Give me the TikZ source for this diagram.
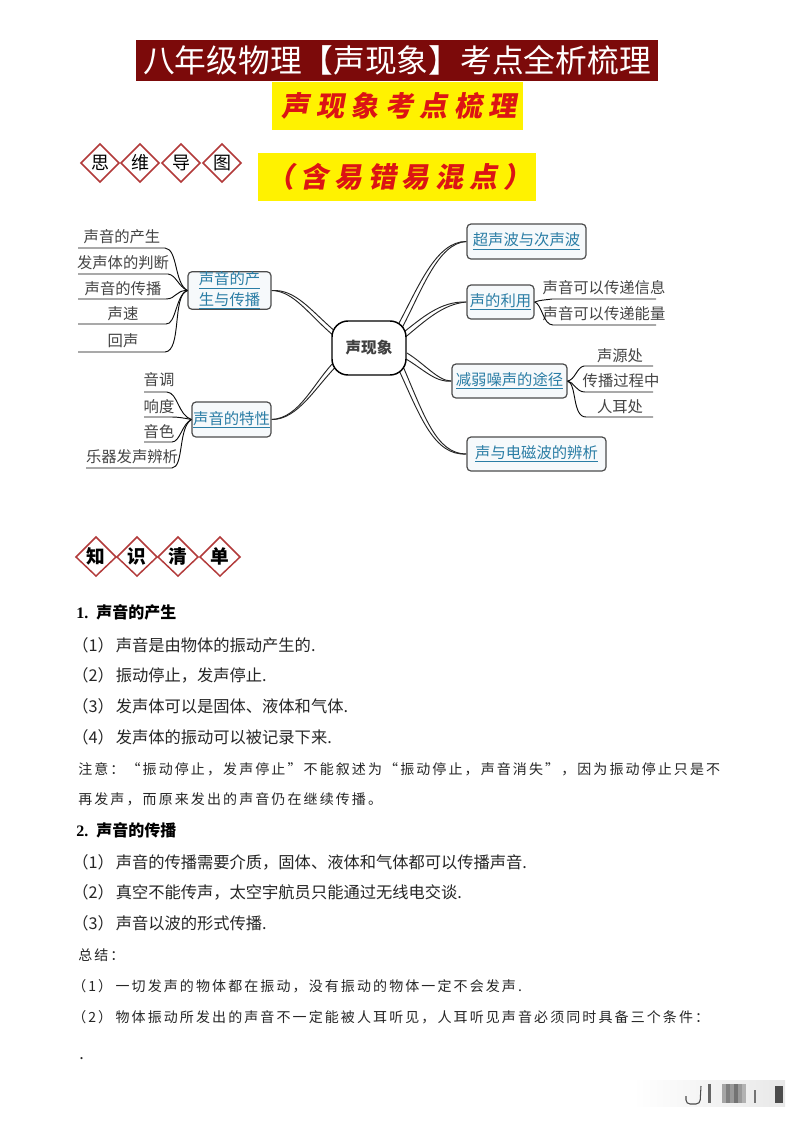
\documentclass[tikz,border=0pt]{standalone}
\usepackage{fontspec}
\setmainfont{Noto Sans CJK SC}
\newfontfamily\brush[FakeSlant=0.18,LetterSpace=23]{Noto Sans CJK SC}
\newfontfamily\brushb[FakeSlant=0.18,LetterSpace=21]{Noto Sans CJK SC}
\newfontfamily\note[LetterSpace=15]{Noto Sans CJK SC}
\newfontfamily\serifl{Liberation Serif}
\usetikzlibrary{calc}
\pgfdeclarelayer{bg}
\pgfsetlayers{bg,main}
\definecolor{maroon}{HTML}{7C0A0A}
\definecolor{linkc}{HTML}{2A7DA5}
\definecolor{diamc}{HTML}{B23A3A}
\definecolor{leafc}{HTML}{444444}
\definecolor{boxf}{HTML}{F6F9FB}
\definecolor{redb}{HTML}{DC1414}
\newcommand{\ul}[1]{\underline{#1}}
\newcommand{\gp}{\hspace{1.5pt}}
\tikzset{
 px/.style={x=0.75pt,y=-0.75pt},
 banner/.style={inner sep=0pt},
 dtxt/.style={inner sep=0pt,font=\fontsize{13.5pt}{16pt}\selectfont},
 ktxt/.style={inner sep=0pt,font=\fontsize{14pt}{16pt}\selectfont\bfseries},
 dline/.style={draw=diamc,line width=1.1pt,line join=miter},
 topic/.style={draw=black!70,line width=0.9pt,rounded corners=3pt,fill=boxf,text=linkc,inner sep=0pt,align=center,font=\fontsize{11.5pt}{15.5pt}\selectfont},
 leaf/.style={inner sep=0pt,text=leafc,font=\fontsize{11.5pt}{14pt}\selectfont},
 wire/.style={draw=black!85,line width=0.7pt},
 twig/.style={draw=black!95,line width=0.7pt},
 head/.style={inner sep=0pt,anchor=west,font=\fontsize{12pt}{14pt}\selectfont\bfseries},
 body/.style={inner sep=0pt,anchor=west,text=black!85,font=\fontsize{12.2pt}{14pt}\selectfont},
 noteb/.style={inner sep=0pt,anchor=west,text=black!85,font=\fontsize{10.5pt}{14pt}\note},
}
\begin{document}
\begin{tikzpicture}[px]
\useasboundingbox (0,0) rectangle (793,1122);
\begin{pgfonlayer}{bg}
\fill[white] (0,0) rectangle (793,1122);
\end{pgfonlayer}
% banners
\node[banner,fill=maroon,minimum width=391.5pt,minimum height=30.75pt,text=white,font=\fontsize{23.8pt}{26pt}\selectfont] (title) at (397,60.5) {八年级物理【声现象】考点全析梳理};
\node[banner,fill=yellow,minimum width=188pt,minimum height=36pt,text=redb,font=\fontsize{21pt}{24pt}\brush\bfseries] (sub1) at (397.5,106) {\hspace{2.5pt}声现象考点梳理};
\node[banner,fill=yellow,minimum width=208.5pt,minimum height=36pt,text=redb,font=\fontsize{21pt}{24pt}\brushb\bfseries] (sub2) at (397,177) {\hspace{3pt}（含易错易混点）};
% diamonds 1
\foreach \n/\t/\x in {d1/思/100,d2/维/140,d3/导/181,d4/图/222}{
 \node[dtxt] (\n) at (\x,163) {\t};
 \draw[dline,shift={(\n.center)}] (-19,0)--(0,-19)--(19,0)--(0,19)--cycle;
}
% centre
\node[draw=black,line width=1.1pt,rounded corners=12pt,fill=white,minimum width=55.5pt,minimum height=40.5pt,inner sep=0pt,text=black!75,font=\fontsize{11.7pt}{14pt}\selectfont\bfseries] (c) at (369,348) {声现象};
% topics
\node[topic,minimum width=62.25pt,minimum height=26.25pt] (t1) at (229.5,290.5) {\ul{声音的产}\\\ul{生与传播}};
\node[topic,minimum width=59.25pt,minimum height=26.25pt] (t2) at (231.5,419.5) {\ul{声音的特性}};
\node[topic,minimum width=89.25pt,minimum height=26.25pt] (t3) at (526.5,241.5) {\ul{超声波与次声波}};
\node[topic,minimum width=50.25pt,minimum height=25.5pt] (t4) at (500.5,302) {\ul{声的利用}};
\node[topic,minimum width=86.25pt,minimum height=25.5pt] (t5) at (509.5,381) {\ul{减弱噪声的途径}};
\node[topic,minimum width=104.25pt,minimum height=25.5pt] (t6) at (536.5,454) {\ul{声与电磁波的辨析}};
% main connector ends at the centre
\coordinate (a1) at ($(c.center)+(-35,-12)$);  \coordinate (a2) at ($(c.center)+(-32.5,-15.5)$);
\coordinate (b1) at ($(c.center)+(-33.5,12.5)$); \coordinate (b2) at ($(c.center)+(-30.5,16)$);
\coordinate (e1) at ($(c.center)+(29,-23)$);   \coordinate (e2) at ($(c.center)+(33,-20)$);
\coordinate (f1) at ($(c.center)+(31,-13)$);   \coordinate (f2) at ($(c.center)+(33.5,-8.5)$);
\coordinate (g1) at ($(c.center)+(38,5)$);     \coordinate (g2) at ($(c.center)+(37,11)$);
\coordinate (h1) at ($(c.center)+(33,16)$);    \coordinate (h2) at ($(c.center)+(29,20)$);
\begin{pgfonlayer}{bg}
\draw[wire] (t1.east) .. controls (294,291) and (308,314) .. (a1);
\draw[wire] (t1.east) .. controls (296,289) and (311,311) .. (a2);
\draw[wire] (t2.east) .. controls (300,418) and (313,383) .. (b1);
\draw[wire] (t2.east) .. controls (298,420) and (316,386) .. (b2);
\draw[wire] (t3.west) .. controls (436,241) and (418,288) .. (e1);
\draw[wire] (t3.west) .. controls (438,243) and (422,290) .. (e2);
\draw[wire] (t4.west) .. controls (440,301) and (422,318) .. (f1);
\draw[wire] (t4.west) .. controls (442,304) and (424,322) .. (f2);
\draw[wire] (t5.west) .. controls (438,381) and (425,364) .. (g1);
\draw[wire] (t5.west) .. controls (436,383) and (423,369) .. (g2);
\draw[wire] (t6.west) .. controls (436,454) and (424,415) .. (h1);
\draw[wire] (t6.west) .. controls (434,456) and (420,416) .. (h2);
\end{pgfonlayer}
% left leaves, top branch
\node[leaf] (l1) at (122,237) {声音的产生};
\node[leaf] (l2) at (123,263) {发声体的判断};
\node[leaf] (l3) at (123,289) {声音的传播};
\node[leaf] (l4) at (123,314) {声速};
\node[leaf] (l5) at (123,341) {回声};
\coordinate (ls1) at (78,248); \coordinate (ls2) at (78,274); \coordinate (ls3) at (78,299); \coordinate (ls4) at (78,324); \coordinate (ls5) at (78,352);
\draw[twig] (ls1) -- (165,248) .. controls (178,249) and (174,283) .. (t1.west);
\draw[twig] (ls2) -- (168,274) .. controls (176,275) and (178,286) .. (t1.west);
\draw[twig] (ls3) -- (166,299) .. controls (176,299) and (176,290) .. (t1.west);
\draw[twig] (ls4) -- (166,324) .. controls (176,325) and (176,294) .. (t1.west);
\draw[twig] (ls5) -- (165,352) .. controls (182,351) and (172,295) .. (t1.west);
% left leaves, lower branch
\node[leaf] (m1) at (159,380) {音调};
\node[leaf] (m2) at (159,407) {响度};
\node[leaf] (m3) at (159,432) {音色};
\node[leaf] (m4) at (132,457) {乐器发声辨析};
\coordinate (ms1) at (144,392); \coordinate (ms2) at (144,417); \coordinate (ms3) at (144,442); \coordinate (ms4) at (86,468);
\draw[twig] (ms1) -- (167,392) .. controls (178,393) and (178,415) .. (t2.west);
\draw[twig] (ms2) -- (172,417) .. controls (178,417) and (184,418) .. (t2.west);
\draw[twig] (ms3) -- (172,442) .. controls (180,442) and (182,424) .. (t2.west);
\draw[twig] (ms4) -- (172,468) .. controls (184,467) and (178,428) .. (t2.west);
% right leaves
\node[leaf] (r1) at (604,288) {声音可以传递信息};
\node[leaf] (r2) at (604,314) {声音可以传递能量};
\coordinate (rs1) at (656,299); \coordinate (rs2) at (656,325);
\draw[twig] (rs1) -- (552,299) .. controls (545,300) and (540,300) .. (t4.east);
\draw[twig] (rs2) -- (553,325) .. controls (543,325) and (542,304) .. (t4.east);
\node[leaf] (s1) at (620,356) {声源处};
\node[leaf] (s2) at (621,381) {传播过程中};
\node[leaf] (s3) at (620,407) {人耳处};
\coordinate (ss1) at (653,366); \coordinate (ss2) at (653,392); \coordinate (ss3) at (653,417);
\draw[twig] (ss1) -- (584,366) .. controls (577,367) and (575,380) .. (t5.east);
\draw[twig] (ss2) -- (585,392) .. controls (576,392) and (574,382) .. (t5.east);
\draw[twig] (ss3) -- (586,417) .. controls (572,417) and (577,384) .. (t5.east);
% diamonds 2
\foreach \n/\t/\x in {k1/知/96,k2/识/137,k3/清/178,k4/单/220}{
 \node[ktxt] (\n) at (\x,556) {\t};
 \draw[dline,shift={(\n.center)}] (-20,1)--(0,-19)--(20,1)--(0,20)--cycle;
}
% text
\node[head] (p1) at (76,612) {{\serifl 1.}\hspace{6pt}声音的产生};
\node[body] (p2) at (72,645) {（1）\gp 声音是由物体的振动产生的.};
\node[body] (p3) at (72,675) {（2）\gp 振动停止，发声停止.};
\node[body] (p4) at (72,706) {（3）\gp 发声体可以是固体、液体和气体.};
\node[body] (p5) at (72,737) {（4）\gp 发声体的振动可以被记录下来.};
\node[noteb] (p6) at (78,769) {注意：“振动停止，发声停止”不能叙述为“振动停止，声音消失”，因为振动停止只是不};
\node[noteb] (p7) at (78,799) {再发声，而原来发出的声音仍在继续传播。};
\node[head] (p8) at (76,830) {{\serifl 2.}\hspace{6pt}声音的传播};
\node[body] (p9) at (72,862) {（1）\gp 声音的传播需要介质，固体、液体和气体都可以传播声音.};
\node[body] (p10) at (72,892) {（2）\gp 真空不能传声，太空宇航员只能通过无线电交谈.};
\node[body] (p11) at (72,923) {（3）\gp 声音以波的形式传播.};
\node[noteb] (p12) at (78,955) {总结：};
\node[noteb] (p13) at (72,986) {（1）\hspace{2.5pt}一切发声的物体都在振动，没有振动的物体一定不会发声.};
\node[noteb] (p14) at (72,1017) {（2）\hspace{2.5pt}物体振动所发出的声音不一定能被人耳听见，人耳听见声音必须同时具备三个条件：};
\node[body] (p15) at (79,1059) {.};
% blurred mark, lower right
\shade[left color=white,right color=black!9] (633,1080) rectangle (785,1106);
\draw[black!70,line width=0.8pt,rounded corners=3pt] (686,1096) -- (686,1104) -- (700,1104) -- (701,1086);
\fill[black!60] (708,1084) rectangle (711,1103);
\foreach \x/\g in {722/35,726/50,730/40,734/55,738/40,742/30}{\fill[black!\g] (\x,1084) rectangle ++(3.6,19);}
\fill[black!55] (754,1090) rectangle (756,1103);
\fill[black!70] (775,1086) rectangle (783,1103);
\end{tikzpicture}
\end{document}
